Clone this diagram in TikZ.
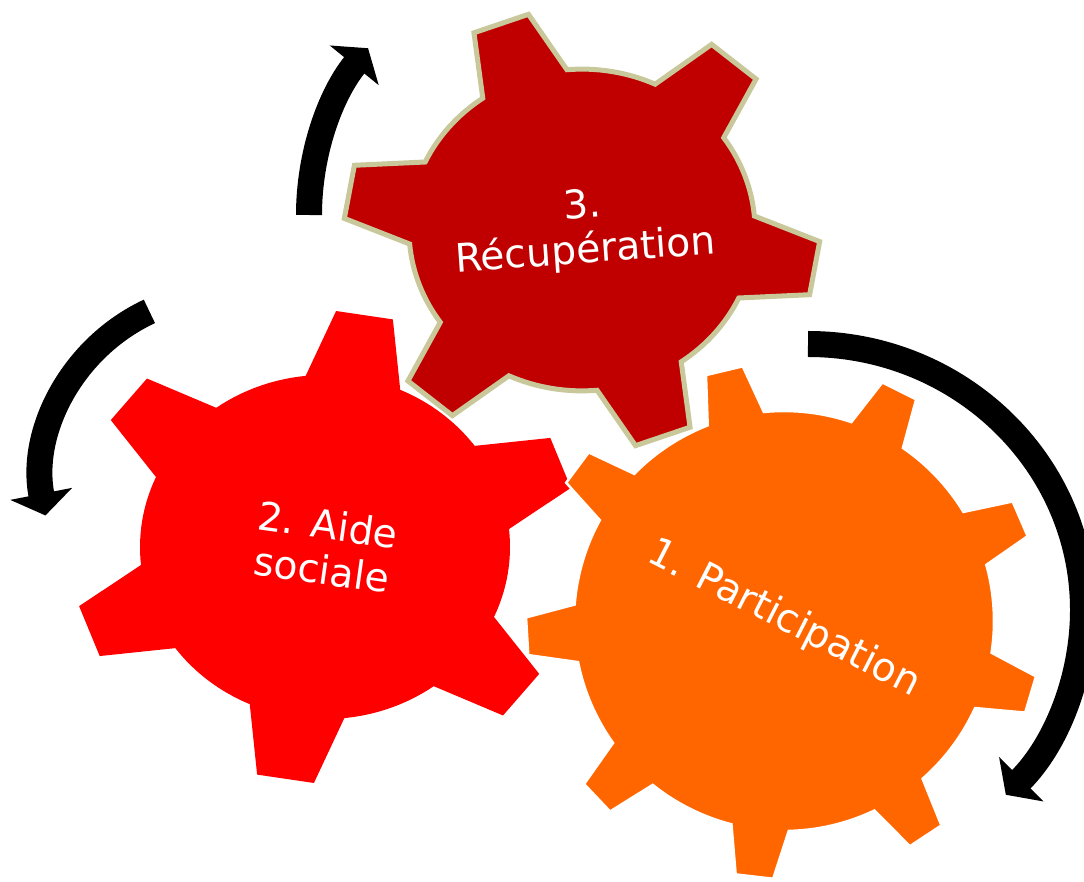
\documentclass[tikz,border=0pt]{standalone}
\usepackage{fontspec}
\setmainfont{DejaVu Sans}
\usetikzlibrary{arrows.meta}
\definecolor{orangegear}{RGB}{255,102,0}
\definecolor{redgear}{RGB}{255,0,0}
\definecolor{darkgear}{RGB}{192,0,0}
\definecolor{gearrim}{RGB}{200,200,155}

\begin{document}
\begin{tikzpicture}[x=1pt,y=1pt,
  gearlabel/.style={text=white,font=\fontsize{39.3}{45}\selectfont,align=center,inner sep=0pt},
  turn/.style={line width=26pt,-{Triangle[width=62pt,length=22pt]}}]
  \path[use as bounding box,fill=white] (0,0) rectangle (1084,881);
  \begin{scope}[shift={(325,334)},yscale=0.93]
    \fill[redgear] (66:185) \foreach \a in {81,141,201,261,321,381} {
      -- ({\a-15}:185) -- ({\a-6.5}:254) -- ({\a+6.5}:254) -- ({\a+15}:185)
      arc[start angle={\a+15},end angle={\a+45},radius=185]} -- cycle;
  \end{scope}
  \begin{scope}[shift={(582,651)},yscale=0.93]
    \filldraw[fill=darkgear,draw=gearrim,line width=5pt] (95:173) \foreach \a in {110,170,230,290,350,410} {
      -- ({\a-15}:173) -- ({\a-7}:238) -- ({\a+7}:238) -- ({\a+15}:173)
      arc[start angle={\a+15},end angle={\a+45},radius=173]} -- cycle;
  \end{scope}
  \begin{scope}[shift={(784,260)}]
    \filldraw[fill=orangegear,draw=white,line width=2.5pt] (95.5:210) \foreach \a in {103.4,143.4,183.4,223.4,263.4,303.4,343.4,383.4,423.4} {
      -- ({\a-7.9}:210) -- ({\a-4.2}:258) -- ({\a+4.2}:258) -- ({\a+7.9}:210)
      arc[start angle={\a+7.9},end angle={\a+32.1},radius=210]} -- cycle;
  \end{scope}
  \node[gearlabel,rotate=4] (recuperation) at (584,651) {3.\\Récupération};
  \node[gearlabel,rotate=-8] (aide) at (325,334) {2. Aide\\sociale};
  \node[gearlabel,rotate=-27] (participation) at (784,262) {1. Participation};
  \draw[turn] (309,666) arc[start angle=180,end angle=141,radius=265];
  \draw[turn] (149.4,569.6) arc[start angle=115,end angle=191,radius=186];
  \draw[turn] (808,537) arc[start angle=90,end angle=-44,x radius=275,y radius=266];
\end{tikzpicture}
\end{document}
